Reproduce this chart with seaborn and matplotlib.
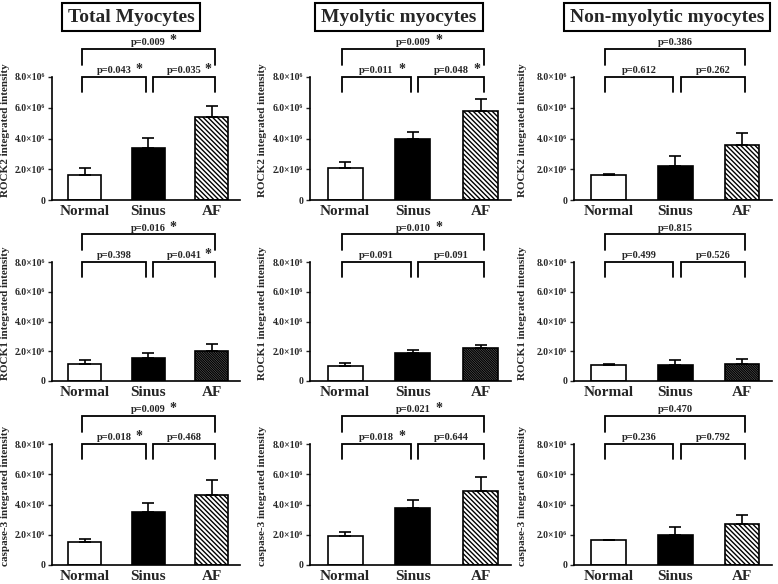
import numpy as np
import pandas as pd
import matplotlib
matplotlib.use("Agg")
import matplotlib.pyplot as plt
import seaborn as sns

# groups and panel text
groups = ["Normal", "Sinus", "AF"]
col_titles = ["Total Myocytes", "Myolytic myocytes", "Non-myolytic myocytes"]
row_labels = ["ROCK2 integrated intensity", "ROCK1 integrated intensity",
              "caspase-3 integrated intensity"]

# means (x10^6)
total_rock2 = [1.61, 3.38, 5.38]
myo_rock2 = [2.05, 4.00, 5.80]
non_rock2 = [1.65, 2.20, 3.60]
total_rock1 = [1.15, 1.52, 2.01]
myo_rock1 = [1.03, 1.85, 2.22]
non_rock1 = [1.07, 1.05, 1.12]
total_casp3 = [1.55, 3.50, 4.62]
myo_casp3 = [1.92, 3.80, 4.88]
non_casp3 = [1.62, 1.97, 2.69]

# upper error bars (x10^6)
total_rock2_err = [0.48, 0.66, 0.75]
myo_rock2_err = [0.42, 0.45, 0.75]
non_rock2_err = [0.03, 0.65, 0.75]
total_rock1_err = [0.24, 0.38, 0.46]
myo_rock1_err = [0.17, 0.22, 0.18]
non_rock1_err = [0.05, 0.35, 0.35]
total_casp3_err = [0.18, 0.60, 0.98]
myo_casp3_err = [0.28, 0.52, 0.97]
non_casp3_err = [0.03, 0.53, 0.60]

# p values: Normal-Sinus, Sinus-AF, Normal-AF
total_rock2_p = ["0.043", "0.035", "0.009"]
myo_rock2_p = ["0.011", "0.048", "0.009"]
non_rock2_p = ["0.612", "0.262", "0.386"]
total_rock1_p = ["0.398", "0.041", "0.016"]
myo_rock1_p = ["0.091", "0.091", "0.010"]
non_rock1_p = ["0.499", "0.526", "0.815"]
total_casp3_p = ["0.018", "0.468", "0.009"]
myo_casp3_p = ["0.018", "0.644", "0.021"]
non_casp3_p = ["0.236", "0.792", "0.470"]

means = [[total_rock2, myo_rock2, non_rock2],
         [total_rock1, myo_rock1, non_rock1],
         [total_casp3, myo_casp3, non_casp3]]
errs = [[total_rock2_err, myo_rock2_err, non_rock2_err],
        [total_rock1_err, myo_rock1_err, non_rock1_err],
        [total_casp3_err, myo_casp3_err, non_casp3_err]]
pvals = [[total_rock2_p, myo_rock2_p, non_rock2_p],
         [total_rock1_p, myo_rock1_p, non_rock1_p],
         [total_casp3_p, myo_casp3_p, non_casp3_p]]

yticks = [0, 2e6, 4e6, 6e6, 8e6]
ytick_labels = ["0", "2.0×10⁶", "4.0×10⁶", "6.0×10⁶", "8.0×10⁶"]

sns.set_theme(style="ticks")
plt.rcParams['font.family'] = ['Liberation Serif', 'DejaVu Serif']
plt.rcParams['font.weight'] = 'bold'
plt.rcParams['hatch.linewidth'] = 1.0

fig = plt.figure(figsize=(7.78, 5.84), dpi=100)

# axes boxes in pixels (left, top, right, bottom)
col_x = [(52, 240), (310, 511), (574, 772)]
row_y = [(77, 200), (262, 381), (444, 565)]
ylab_x = [10, 267, 527]
title_x = [131, 399, 667]


def fpos(l, t, r, b):
    return [l / 778, 1 - b / 584, (r - l) / 778, (b - t) / 584]


def bracket(ax, x0, x1, y0, y1, p):
    ax.plot([x0, x0, x1, x1], [y0, y1, y1, y0], color='black', lw=1.3,
            clip_on=False, solid_joinstyle='miter')
    xc = (x0 + x1) / 2
    ax.text(xc, y1 + 0.12e6, "p=" + p, ha='center', va='bottom',
            fontsize=7.5, fontweight='bold', clip_on=False)
    if float(p) < 0.05:
        ax.text(xc + 0.33, y1 + 0.5e6, "*", ha='left', va='center',
                fontsize=10, fontweight='bold', clip_on=False)


for r in range(3):
    for c in range(3):
        ax = fig.add_axes(fpos(col_x[c][0], row_y[r][0], col_x[c][1], row_y[r][1]))
        df = pd.DataFrame({"group": groups,
                           "value": np.array(means[r][c]) * 1e6})
        sns.barplot(data=df, x="group", y="value", hue="group",
                    palette=["white", "black", "white"], width=0.52,
                    edgecolor="black", linewidth=1.2, errorbar=None,
                    legend=False, ax=ax)
        af = ax.patches[2]
        if r == 1:
            af.set_facecolor("#b0b0b0")
            af.set_hatch("\\" * 14)
        else:
            af.set_hatch("\\" * 7)
        e = np.array(errs[r][c]) * 1e6
        ax.errorbar(range(3), df["value"], yerr=[np.zeros(3), e], fmt='none',
                    ecolor='black', elinewidth=1.2, capsize=4.5, capthick=1.2,
                    zorder=1)

        ax.set_xlim(-0.52, 2.45)
        ax.set_ylim(0, 8e6)
        ax.set_yticks(yticks)
        ax.set_yticklabels(ytick_labels, fontsize=7, fontweight='bold')
        ax.set_xticks(range(3))
        ax.set_xticklabels(groups, fontsize=11, fontweight='bold')
        ax.tick_params(axis='x', length=0, pad=3.5)
        ax.tick_params(axis='y', length=3, width=1, pad=2)
        ax.set_xlabel("")
        ax.set_ylabel(row_labels[r], fontsize=8, fontweight='bold')
        w = col_x[c][1] - col_x[c][0]
        ax.yaxis.set_label_coords((ylab_x[c] - col_x[c][0]) / w, 0.57)
        sns.despine(ax=ax)
        for s in ["left", "bottom"]:
            ax.spines[s].set_linewidth(1.2)
            ax.spines[s].set_color("black")

        p = pvals[r][c]
        bracket(ax, -0.05, 0.97, 7.0e6, 8.0e6, p[0])
        bracket(ax, 1.08, 2.05, 7.0e6, 8.0e6, p[1])
        bracket(ax, -0.05, 2.05, 8.8e6, 9.85e6, p[2])

for c in range(3):
    fig.text(title_x[c] / 778, 1 - 17 / 584, col_titles[c], ha='center',
             va='center', fontsize=14, fontweight='bold',
             bbox=dict(boxstyle='square,pad=0.3', fc='white', ec='black', lw=1.5))

fig.savefig("out.png", dpi=100)
